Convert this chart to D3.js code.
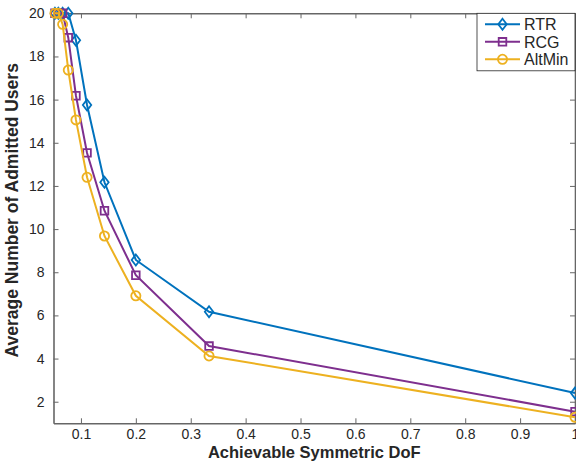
<!DOCTYPE html>
<html>
<head>
<meta charset="utf-8">
<script src="https://cdn.jsdelivr.net/npm/d3@7/dist/d3.min.js"></script>
<style>
  body { margin: 0; background: #fff; }
  text { font-family: "Liberation Sans", Arial, Helvetica, sans-serif; fill: #262626; }
</style>
</head>
<body>
<div id="chart"></div>
<script>
// achievable symmetric DoF (1/K)
var dof = [1/19, 1/17, 1/15, 1/13, 1/11, 1/9, 1/7, 1/5, 1/3, 1];
var rtr = [20, 20, 20, 20, 18.75, 15.75, 12.17, 8.57, 6.17, 2.4];
var rcg = [20, 20, 20, 18.87, 16.18, 13.53, 10.85, 7.86, 4.58, 1.54];
var altmin = [20, 20, 19.49, 17.37, 15.06, 12.4, 9.68, 6.91, 4.12, 1.28];
var seriesNames = ["RTR", "RCG", "AltMin"];
var xTicks = [0.1, 0.2, 0.3, 0.4, 0.5, 0.6, 0.7, 0.8, 0.9, 1];
var yTicks = [2, 4, 6, 8, 10, 12, 14, 16, 18, 20];

var colors = ["#0072BD", "#7E2F8E", "#EDB120"];
var markers = ["diamond", "square", "circle"];

var margin = {top: 13.3, right: 1, bottom: 39.7, left: 53.5},
    width = 576 - margin.left - margin.right,
    height = 463 - margin.top - margin.bottom;

var svg = d3.select("#chart").append("svg")
    .attr("width", 576)
    .attr("height", 463)
  .append("g")
    .attr("transform", "translate(" + margin.left + "," + margin.top + ")");

var x = d3.scaleLinear().domain([0.05, 1]).range([0, width]);
var y = d3.scaleLinear().domain([1, 20]).range([height, 0]);

var series = [rtr, rcg, altmin].map(function(vals, i) {
  return {
    name: seriesNames[i],
    color: colors[i],
    marker: markers[i],
    points: vals.map(function(v, j) { return {x: dof[j], y: v}; })
  };
});

function markerPath(type) {
  if (type === "diamond") return "M0,-5.5L4.2,0L0,5.5L-4.2,0Z";
  if (type === "square") return "M-3.8,-3.8H3.8V3.8H-3.8Z";
  return "M4.6,0A4.6,4.6 0 1,1 -4.6,0A4.6,4.6 0 1,1 4.6,0Z";
}

var axisColor = "#666";

// axes (box with inward ticks)
var xAxis = d3.axisBottom(x).tickValues(xTicks).tickSizeInner(-5).tickSizeOuter(0)
    .tickPadding(6).tickFormat(d3.format("~g"));
var yAxis = d3.axisLeft(y).tickValues(yTicks).tickSizeInner(-5).tickSizeOuter(0)
    .tickPadding(9);

var gx = svg.append("g")
    .attr("transform", "translate(0," + height + ")")
    .call(xAxis);
var gy = svg.append("g").call(yAxis);
var gt = svg.append("g")
    .call(d3.axisTop(x).tickValues(xTicks).tickSizeInner(-5).tickSizeOuter(0).tickFormat(""));
var gr = svg.append("g")
    .attr("transform", "translate(" + width + ",0)")
    .call(d3.axisRight(y).tickValues(yTicks).tickSizeInner(-5).tickSizeOuter(0).tickFormat(""));

[gx, gy, gt, gr].forEach(function(g) {
  g.select(".domain").attr("stroke", axisColor).attr("stroke-width", 1.6);
  g.selectAll(".tick line").attr("stroke", axisColor).attr("stroke-width", 1);
  g.selectAll(".tick text").attr("font-size", 14).attr("fill", "#262626")
    .attr("font-family", "Liberation Sans, Arial, sans-serif");
});

var line = d3.line()
    .x(function(d) { return x(d.x); })
    .y(function(d) { return y(d.y); });

series.forEach(function(s) {
  svg.append("path")
      .datum(s.points)
      .attr("fill", "none")
      .attr("stroke", s.color)
      .attr("stroke-width", 2)
      .attr("d", line);
  svg.selectAll(null)
      .data(s.points)
    .enter().append("path")
      .attr("transform", function(d) { return "translate(" + x(d.x) + "," + y(d.y) + ")"; })
      .attr("d", markerPath(s.marker))
      .attr("fill", "none")
      .attr("stroke", s.color)
      .attr("stroke-width", 1.8);
});

// axis labels
svg.append("text")
    .attr("x", width / 2)
    .attr("y", height + 35)
    .attr("text-anchor", "middle")
    .attr("font-size", 16.5)
    .attr("font-weight", "bold")
    .text("Achievable Symmetric DoF");

svg.append("text")
    .attr("transform", "translate(" + (-36) + "," + (height / 2 - 8) + ") rotate(-90)")
    .attr("text-anchor", "middle")
    .attr("font-size", 17.5)
    .attr("font-weight", "bold")
    .text("Average Number of Admitted Users");

// legend
var lg = svg.append("g").attr("transform", "translate(" + (477 - margin.left) + ",0)");
lg.append("rect")
    .attr("width", 98)
    .attr("height", 57.5)
    .attr("fill", "#fff")
    .attr("stroke", "#262626")
    .attr("stroke-width", 0.8);
series.forEach(function(s, i) {
  var cy = 11 + i * 17.5;
  lg.append("line")
      .attr("x1", 8).attr("x2", 43)
      .attr("y1", cy).attr("y2", cy)
      .attr("stroke", s.color).attr("stroke-width", 2);
  lg.append("path")
      .attr("transform", "translate(25.5," + cy + ")")
      .attr("d", markerPath(s.marker))
      .attr("fill", "none")
      .attr("stroke", s.color)
      .attr("stroke-width", 1.8);
  lg.append("text")
      .attr("x", 47)
      .attr("y", cy)
      .attr("dy", "0.36em")
      .attr("font-size", 16)
      .text(s.name);
});
</script>
</body>
</html>
